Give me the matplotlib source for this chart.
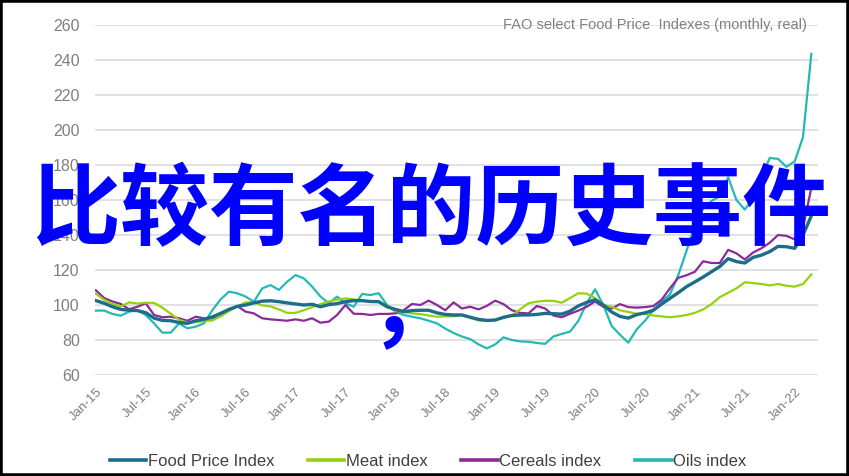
import matplotlib
matplotlib.use("Agg")
import matplotlib.pyplot as plt
from matplotlib import font_manager as fm
from matplotlib.patches import Rectangle

# monthly real index values, Jan-15 .. Mar-22
food = [102.5, 101, 99, 97.5, 97, 96.8, 95.6, 92.5, 91.2, 91, 90, 89.5,
        91, 91.8, 93.2, 95.2, 97.5, 99.2, 100, 101.2, 102.2, 102.4, 101.9, 101.2,
        100.6, 100, 100.4, 99, 100.2, 100.8, 101.9, 102.5, 102.5, 102, 101.9, 99,
        97.5, 96.2, 96.8, 97, 97, 95.5, 94.6, 94.3, 94.3, 93, 91.8, 91.2,
        91.4, 93, 94, 94.3, 94.3, 94.6, 95.2, 95, 94.8, 96.5, 99.5, 101.5,
        103, 100, 96, 93.5, 92.5, 94.5, 95.5, 97, 100.5, 103.8, 107, 110.5,
        113.2, 116, 119, 122, 126.5, 124.8, 124, 127.2, 128.5, 130.5, 133.5, 133.3,
        132.4, 140, 151]
meat = [106.5, 103, 100.6, 99.2, 101.5, 100.8, 101.3, 101.2, 98.5, 95, 91.5, 90,
        90.2, 90.8, 91.2, 93.5, 96.5, 99.2, 101.5, 101.5, 99.8, 99.2, 97.5, 95.5,
        95.5, 97, 98.8, 100.5, 102, 103, 103.8, 103.2, 102.5, 102, 101.8, 99.5,
        96.5, 96, 95.2, 94.8, 94, 93.3, 93.5, 93.5, 94.3, 92.8, 91.2, 91,
        91.6, 92.5, 94, 97.5, 101, 101.9, 102.4, 102.4, 101.3, 104, 106.7, 106.5,
        104, 100, 99, 97, 96, 95, 94.9, 94, 93.5, 93, 93.5, 94.3,
        95.5, 97.5, 100.5, 104.5, 107, 109.5, 113, 112.5, 112, 111.2, 112, 111,
        110.5, 112, 117.5]
cereals = [108.4, 104, 102, 100.6, 97.6, 99, 101, 94.3, 93, 93.3, 92.4, 91,
           93.3, 92.4, 92.4, 95.2, 96.8, 99.4, 96.2, 95.2, 92.4, 91.8, 91.4, 91,
           91.8, 91, 92.4, 89.9, 90.5, 94.3, 100, 95, 94.9, 94.3, 94.9, 94.9,
           95.2, 97, 100.6, 100, 102.5, 100, 97, 101.5, 98, 99, 97.5, 99.5,
           102.5, 100.5, 97, 95.5, 95.2, 99.4, 98, 94, 93, 95, 96.8, 99,
           102, 99, 98, 100.5, 98.8, 98.5, 98.8, 99.4, 103, 109.5, 115.5, 117,
           119, 125, 124, 124, 131.5, 129.5, 126, 130, 132.4, 135.6, 140, 139.5,
           137.5, 144, 167]
oils = [96.8, 96.8, 94.9, 93.9, 96.2, 97, 94.3, 89.5, 84.2, 84.2, 89.5, 86.7,
        87.6, 89.5, 97, 103.2, 107.6, 106.7, 104.8, 101.9, 109.5, 111.4, 108.6, 113.3,
        117.1, 115.2, 110.5, 104.8, 101, 104.8, 101, 99, 106.3, 105.7, 106.7, 100,
        96.2, 94.3, 93.3, 92.4, 91, 89.5, 86.5, 84, 82, 80.5, 77.5, 75.2,
        77.5, 81.5, 80, 79.2, 79, 78.3, 77.8, 82, 83.5, 84.8, 91, 101,
        109, 100, 88, 83, 78.5, 86, 91, 97, 102, 106, 117, 131,
        146, 155, 159.5, 162, 173, 160, 154.5, 161, 173, 184, 183.5, 179,
        182, 196, 243.5]

tick_labels = ['Jan-15', 'Jul-15', 'Jan-16', 'Jul-16', 'Jan-17', 'Jul-17', 'Jan-18',
               'Jul-18', 'Jan-19', 'Jul-19', 'Jan-20', 'Jul-20', 'Jan-21', 'Jul-21',
               'Jan-22']
series_names = ['Food Price Index', 'Meat index', 'Cereals index', 'Oils index']
colors = ['#1c6c8c', '#95d20e', '#8d2a9b', '#22b9b6']


def has_font(name):
    try:
        fm.findfont(fm.FontProperties(family=name), fallback_to_default=False)
        return True
    except Exception:
        return False

narrow = 'Liberation Sans Narrow' if has_font('Liberation Sans Narrow') else 'Liberation Sans'

plt.rcParams['font.family'] = ['Liberation Sans', 'DejaVu Sans']

fig = plt.figure(figsize=(8.49, 4.76), dpi=100)
ax = fig.add_axes([95 / 849, 1 - 375 / 476, 723 / 849, 350 / 476])

months = list(range(len(food)))
ax.plot(months, food, color=colors[0], lw=2.4, label=series_names[0], zorder=5)
ax.plot(months, meat, color=colors[1], lw=1.6, label=series_names[1], zorder=4)
ax.plot(months, cereals, color=colors[2], lw=1.6, label=series_names[2], zorder=3)
ax.plot(months, oils, color=colors[3], lw=1.6, label=series_names[3], zorder=2)

ax.set_ylim(60, 260)
ax.set_yticks(range(60, 261, 20))
ax.set_xlim(-0.1, 86.8)
ax.set_xticks(range(0, 85, 6))
ax.set_xticklabels(tick_labels, rotation=45, ha='right', rotation_mode='anchor')
ax.tick_params(axis='both', length=0, colors='#7f7f7f')
ax.tick_params(axis='y', labelsize=11.5, pad=11)
ax.tick_params(axis='x', labelsize=9.5, pad=8)
ax.grid(axis='y', color='#d9d9d9', lw=1.1)
ax.set_axisbelow(True)
for s in ax.spines.values():
    s.set_visible(False)

ax.text(0.985, 1.0, 'FAO select Food Price  Indexes (monthly, real)', transform=ax.transAxes,
        ha='right', va='center', fontsize=10.5, color='#808080')

leg = fig.legend(loc='center', bbox_to_anchor=(428 / 849, 1 - 461 / 476), ncol=4,
                 frameon=False, handlelength=2.2, handletextpad=0.1, columnspacing=2.0,
                 prop={'family': narrow, 'size': 12})
for t in leg.get_texts():
    t.set_color('#404040')
for h in leg.get_lines():
    h.set_linewidth(2.6)

# overlay caption
fig.text(431 / 849, 1 - 212 / 476, '比较有名的历史事件', ha='center', va='center',
         fontsize=64, color='#0000ff', fontweight='bold',
         family=['Noto Sans CJK SC', 'DejaVu Sans'], zorder=10)
fig.text(413 / 849, 1 - 311 / 476, '，', ha='center', va='center',
         fontsize=64, color='#0000ff', fontweight='bold',
         family=['Noto Sans CJK SC', 'DejaVu Sans'], zorder=10)

fig.patches.append(Rectangle((0, 0), 1, 1, transform=fig.transFigure, fill=False,
                             edgecolor='black', lw=4))

fig.savefig('out.png', dpi=100)
